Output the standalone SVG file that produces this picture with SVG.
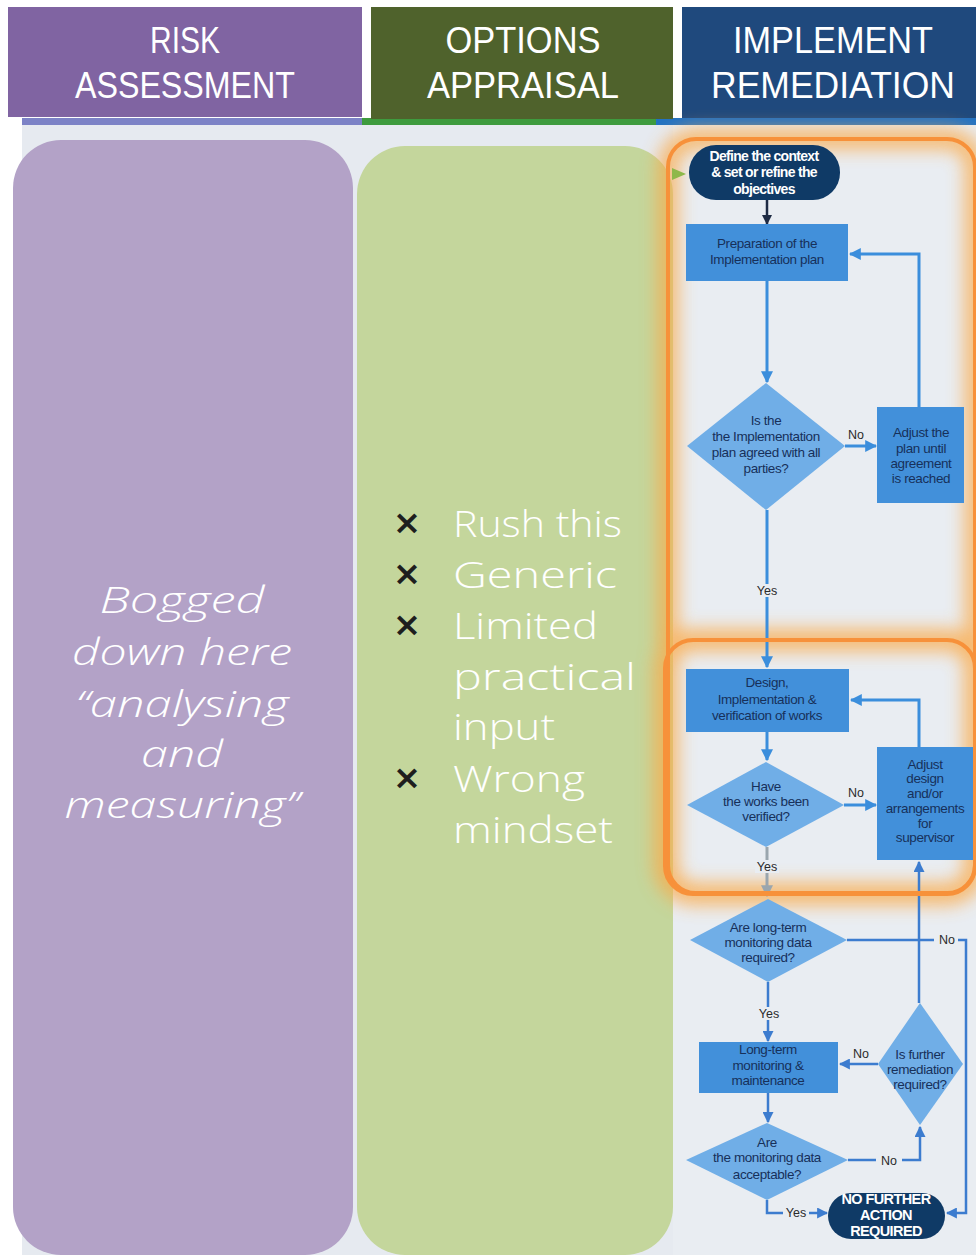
<svg xmlns="http://www.w3.org/2000/svg" width="976" height="1255" viewBox="0 0 976 1255">
<defs>
<style>
.hdr{font-family:"Liberation Sans",Arial,sans-serif;font-size:36px;fill:#ffffff;text-anchor:middle}
.big{font-family:"Open Sans","DejaVu Sans",sans-serif;font-weight:300;font-size:37px;fill:#ffffff}
.it{font-style:italic;text-anchor:middle}
.x{font-family:"DejaVu Sans",sans-serif;font-size:34px;font-weight:bold;fill:#1e1e1e;text-anchor:middle}
.fc{font-family:"Liberation Sans",Arial,sans-serif;font-size:13.5px;fill:#17305a;text-anchor:middle;letter-spacing:-0.4px}
.fcw{font-family:"Liberation Sans",Arial,sans-serif;font-size:14px;font-weight:bold;fill:#ffffff;text-anchor:middle;letter-spacing:-0.7px}
.nf{font-family:"Liberation Sans",Arial,sans-serif;font-size:14.5px;font-weight:bold;fill:#ffffff;text-anchor:middle;letter-spacing:-0.6px}
.lbl{font-family:"Liberation Sans",Arial,sans-serif;font-size:12.5px;fill:#2b2b2b;text-anchor:middle}
.rect{fill:#4290DA}
.dia{fill:#70AEE7}
.term{fill:#0F3A66}
.ln{fill:none;stroke:#3B8EDC;stroke-width:3}
.ln2{fill:none;stroke:#3C7CCF;stroke-width:2.5}
.lbg{fill:#E9EDF2}
</style>
<marker id="ah" viewBox="0 0 10 10" refX="9" refY="5" markerWidth="4" markerHeight="4" orient="auto"><path d="M0,0 L10,5 L0,10 z" fill="#3B8EDC"/></marker>
<marker id="ah2" viewBox="0 0 10 10" refX="9" refY="5" markerWidth="4.4" markerHeight="4.4" orient="auto"><path d="M0,0 L10,5 L0,10 z" fill="#3C7CCF"/></marker>
<marker id="ahd" viewBox="0 0 10 10" refX="9" refY="5" markerWidth="4" markerHeight="4" orient="auto"><path d="M0,0 L10,5 L0,10 z" fill="#1E2B44"/></marker>
<marker id="ahg" viewBox="0 0 10 10" refX="9" refY="5" markerWidth="4" markerHeight="4" orient="auto"><path d="M0,0 L10,5 L0,10 z" fill="#9AA6AE"/></marker>
<filter id="glow" x="-15%" y="-15%" width="130%" height="130%"><feGaussianBlur stdDeviation="9"/></filter>
</defs>

<!-- background -->
<rect x="0" y="0" width="976" height="1255" fill="#ffffff"/>
<rect x="22" y="118" width="954" height="1137" fill="#E6EAF0"/>
<rect x="22" y="118" width="340" height="7" fill="#7C82C6"/>
<rect x="362" y="118" width="294" height="7" fill="#3E9B3E"/>
<rect x="656" y="118" width="320" height="7" fill="#2272C3"/>
<rect x="673" y="125" width="303" height="1130" fill="#E9EDF2"/>

<!-- headers -->
<g id="hdr-risk">
<rect x="8" y="7" width="354" height="110" fill="#8064A2"/>
<text class="hdr" x="185" y="53" textLength="70" lengthAdjust="spacingAndGlyphs">RISK</text>
<text class="hdr" x="185" y="98" textLength="220" lengthAdjust="spacingAndGlyphs">ASSESSMENT</text>
</g>
<g id="hdr-options">
<rect x="371" y="7" width="302" height="112" fill="#4F622C"/>
<text class="hdr" x="523" y="53" textLength="155" lengthAdjust="spacingAndGlyphs">OPTIONS</text>
<text class="hdr" x="523" y="98" textLength="192" lengthAdjust="spacingAndGlyphs">APPRAISAL</text>
</g>
<g id="hdr-implement">
<rect x="682" y="7" width="294" height="111" fill="#1F497D"/>
<text class="hdr" x="833" y="53" textLength="200" lengthAdjust="spacingAndGlyphs">IMPLEMENT</text>
<text class="hdr" x="833" y="98" textLength="244" lengthAdjust="spacingAndGlyphs">REMEDIATION</text>
</g>

<!-- panels -->
<g id="panel-risk">
<rect x="13" y="140" width="340" height="1115" rx="48" fill="#B3A2C7"/>
<text class="big it" x="182" y="613" textLength="165" lengthAdjust="spacingAndGlyphs">Bogged</text>
<text class="big it" x="182" y="665" textLength="220" lengthAdjust="spacingAndGlyphs">down here</text>
<text class="big it" x="182" y="717" textLength="213" lengthAdjust="spacingAndGlyphs">“analysing</text>
<text class="big it" x="182" y="767" textLength="82" lengthAdjust="spacingAndGlyphs">and</text>
<text class="big it" x="182" y="818" textLength="235" lengthAdjust="spacingAndGlyphs">measuring”</text>
</g>
<g id="panel-options">
<rect x="357" y="146" width="316" height="1109" rx="48" fill="#C4D69C"/>
<text class="x" x="407" y="534">×</text>
<text class="big" x="453" y="537" textLength="169" lengthAdjust="spacingAndGlyphs">Rush this</text>
<text class="x" x="407" y="585">×</text>
<text class="big" x="453" y="588" textLength="164" lengthAdjust="spacingAndGlyphs">Generic</text>
<text class="x" x="407" y="636">×</text>
<text class="big" x="453" y="639" textLength="145" lengthAdjust="spacingAndGlyphs">Limited</text>
<text class="big" x="453" y="690" textLength="183" lengthAdjust="spacingAndGlyphs">practical</text>
<text class="big" x="453" y="740" textLength="102" lengthAdjust="spacingAndGlyphs">input</text>
<text class="x" x="407" y="789">×</text>
<text class="big" x="453" y="792" textLength="132" lengthAdjust="spacingAndGlyphs">Wrong</text>
<text class="big" x="453" y="843" textLength="160" lengthAdjust="spacingAndGlyphs">mindset</text>
</g>

<!-- orange highlight glow -->
<g id="highlight">
<g filter="url(#glow)" opacity="0.8">
<rect x="668" y="139" width="307" height="754" rx="28" fill="none" stroke="#FBAA48" stroke-width="20"/>
<rect x="665" y="640" width="310" height="254" rx="28" fill="none" stroke="#FBAA48" stroke-width="22"/>
</g>
</g>

<!-- connectors -->
<g id="connectors">
<polygon points="672,168 686,174 672,180" fill="#8DB84A"/>
<path d="M767,200 L767,224" fill="none" stroke="#1E2B44" stroke-width="2.5" marker-end="url(#ahd)"/>
<path class="ln" d="M767,281 L767,382" marker-end="url(#ah)"/>
<path class="ln" d="M845,446 L876,446" marker-end="url(#ah)"/>
<text class="lbl" x="856" y="439">No</text>
<path class="ln" d="M919,407 L919,254 L850,254" marker-end="url(#ah)"/>
<path class="ln" d="M767,510 L767,667" marker-end="url(#ah)"/>
<rect class="lbg" x="755" y="584" width="24" height="13"/>
<text class="lbl" x="767" y="595">Yes</text>
<path class="ln" d="M767,732 L767,760" marker-end="url(#ah)"/>
<path class="ln" d="M844,805 L876,805" marker-end="url(#ah)"/>
<text class="lbl" x="856" y="797">No</text>
<path class="ln" d="M919,747 L919,700 L851,700" marker-end="url(#ah)"/>
<path d="M767,847 L767,896" fill="none" stroke="#9AA6AE" stroke-width="3" marker-end="url(#ahg)"/>
<rect class="lbg" x="755" y="860" width="24" height="13"/>
<text class="lbl" x="767" y="871">Yes</text>
<path class="ln2" d="M919,1003 L919,862" marker-end="url(#ah2)"/>
<path class="ln2" d="M847,940 L934,940"/>
<text class="lbl" x="947" y="944">No</text>
<path class="ln2" d="M958,940 L966,940 L966,1213 L947,1213" marker-end="url(#ah2)"/>
<path class="ln2" d="M768,982 L768,1041" marker-end="url(#ah2)"/>
<rect class="lbg" x="757" y="1007" width="24" height="13"/>
<text class="lbl" x="769" y="1018">Yes</text>
<path class="ln2" d="M878,1064 L840,1064" marker-end="url(#ah2)"/>
<text class="lbl" x="861" y="1058">No</text>
<path class="ln2" d="M768,1093 L768,1122" marker-end="url(#ah2)"/>
<path class="ln2" d="M848,1160 L876,1160"/>
<text class="lbl" x="889" y="1165">No</text>
<path class="ln2" d="M902,1160 L920,1160 L920,1127" marker-end="url(#ah2)"/>
<path class="ln2" d="M767,1200 L767,1213 L783,1213"/>
<text class="lbl" x="796" y="1217">Yes</text>
<path class="ln2" d="M809,1213 L827,1213" marker-end="url(#ah2)"/>
</g>

<!-- nodes -->
<g id="n-define">
<rect class="term" x="689" y="145" width="151" height="55" rx="27"/>
<text class="fcw" x="764" y="161">Define the context</text>
<text class="fcw" x="764" y="177">&amp; set or refine the</text>
<text class="fcw" x="764" y="194">objectives</text>
</g>
<g id="n-prep">
<rect class="rect" x="686" y="224" width="162" height="57"/>
<text class="fc" x="767" y="248">Preparation of the</text>
<text class="fc" x="767" y="264">Implementation plan</text>
</g>
<g id="n-agreed">
<polygon class="dia" points="766,383 845,446 766,510 687,446"/>
<text class="fc" x="766" y="425">Is the</text>
<text class="fc" x="766" y="441">the Implementation</text>
<text class="fc" x="766" y="457">plan agreed with all</text>
<text class="fc" x="766" y="473">parties?</text>
</g>
<g id="n-adjustplan">
<rect class="rect" x="877" y="407" width="87" height="96"/>
<text class="fc" x="921" y="437">Adjust the</text>
<text class="fc" x="921" y="453">plan until</text>
<text class="fc" x="921" y="468">agreement</text>
<text class="fc" x="921" y="483">is reached</text>
</g>
<g id="n-design">
<rect class="rect" x="686" y="669" width="163" height="63"/>
<text class="fc" x="767" y="687">Design,</text>
<text class="fc" x="767" y="704">Implementation &amp;</text>
<text class="fc" x="767" y="720">verification of works</text>
</g>
<g id="n-verified">
<polygon class="dia" points="766,762 844,805 766,847 687,805"/>
<text class="fc" x="766" y="791">Have</text>
<text class="fc" x="766" y="806">the works been</text>
<text class="fc" x="766" y="821">verified?</text>
</g>
<g id="n-adjustdesign">
<rect class="rect" x="877" y="747" width="96" height="113"/>
<text class="fc" x="925" y="769">Adjust</text>
<text class="fc" x="925" y="783">design</text>
<text class="fc" x="925" y="798">and/or</text>
<text class="fc" x="925" y="813">arrangements</text>
<text class="fc" x="925" y="828">for</text>
<text class="fc" x="925" y="842">supervisor</text>
</g>

<!-- orange highlight sharp lines -->
<g id="highlight-lines">
<rect x="668" y="139" width="307" height="754" rx="28" fill="none" stroke="#F7913A" stroke-width="4"/>
<rect x="665" y="640" width="310" height="254" rx="28" fill="none" stroke="#F7913A" stroke-width="4"/>
</g>

<g id="n-longreq">
<polygon class="dia" points="768,899 847,940 768,982 690,940"/>
<text class="fc" x="768" y="932">Are long-term</text>
<text class="fc" x="768" y="947">monitoring data</text>
<text class="fc" x="768" y="962">required?</text>
</g>
<g id="n-longterm">
<rect class="rect" x="699" y="1042" width="139" height="51"/>
<text class="fc" x="768" y="1054">Long-term</text>
<text class="fc" x="768" y="1070">monitoring &amp;</text>
<text class="fc" x="768" y="1085">maintenance</text>
</g>
<g id="n-further">
<polygon class="dia" points="920,1003 963,1064 920,1125 878,1064"/>
<text class="fc" x="920" y="1059">Is further</text>
<text class="fc" x="920" y="1074">remediation</text>
<text class="fc" x="920" y="1089">required?</text>
</g>
<g id="n-acceptable">
<polygon class="dia" points="767,1123 848,1160 767,1200 686,1160"/>
<text class="fc" x="767" y="1147">Are</text>
<text class="fc" x="767" y="1162">the monitoring data</text>
<text class="fc" x="767" y="1179">acceptable?</text>
</g>
<g id="n-nofurther">
<rect class="term" x="828" y="1193" width="117" height="46" rx="23"/>
<text class="nf" x="886" y="1204">NO FURTHER</text>
<text class="nf" x="886" y="1220">ACTION</text>
<text class="nf" x="886" y="1236">REQUIRED</text>
</g>
</svg>
